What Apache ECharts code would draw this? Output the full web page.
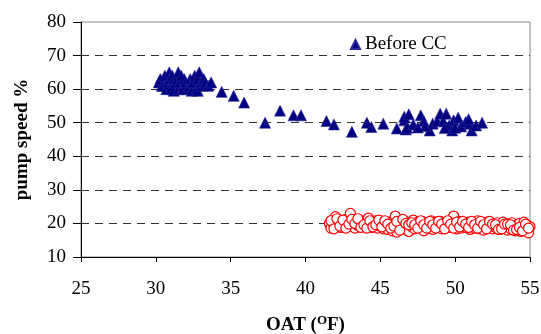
<!DOCTYPE html>
<html>
<head>
<meta charset="utf-8">
<script src="https://cdn.jsdelivr.net/npm/echarts@6/dist/echarts.min.js"></script>
<style>
  html, body { margin: 0; padding: 0; background: #fff; }
  #chart { width: 541px; height: 334px; }
</style>
</head>
<body>
<div id="chart"></div>
<script>
// pump speed vs outdoor air temperature
const xTicks = [25, 30, 35, 40, 45, 50, 55]
const yTicks = [10, 20, 30, 40, 50, 60, 70, 80]

// Before CC: [OAT, pump speed %]
const beforeCC = [
  [30.2, 62], [30.3, 63], [30.4, 61], [30.5, 61], [30.6, 64], [30.7, 60], [30.8, 62],
  [30.9, 65], [30.9, 63], [31.0, 61], [31.0, 60], [31.1, 64], [31.2, 59.5], [31.2, 63],
  [31.3, 62], [31.4, 63], [31.5, 65], [31.5, 60], [31.6, 62], [31.7, 64], [31.8, 61],
  [31.8, 60], [31.9, 63], [32.0, 62], [32.1, 60], [32.2, 61], [32.3, 63], [32.4, 59.5],
  [32.4, 62], [32.5, 62], [32.6, 64], [32.7, 60], [32.8, 63], [32.8, 59.5], [32.9, 65],
  [33.0, 62], [33.1, 61], [33.2, 63], [33.3, 62], [33.5, 61], [33.7, 62],
  [34.4, 59.2], [35.2, 58], [35.9, 56], [37.3, 50], [38.3, 53.6], [39.2, 52.2],
  [39.7, 52.2], [41.4, 50.5], [41.9, 49.5], [43.1, 47.3], [44.1, 50], [44.4, 48.7],
  [45.2, 49.7], [46.1, 48.3], [46.6, 50.7], [46.7, 48],
  [46.6, 51.8], [46.9, 52.5], [46.8, 48.5], [47.2, 49.5], [47.7, 52.2], [47.9, 50.5],
  [48.3, 47.7], [48.5, 49.7], [48.8, 50.4], [49.0, 52.7], [49.2, 50.5], [49.4, 52.7],
  [49.6, 49.2], [49.8, 47.7], [49.9, 50.7], [50.2, 51.5], [50.4, 48.9], [50.7, 50.2],
  [51.0, 49.7], [51.1, 47.7], [51.4, 49.2], [51.8, 50], [48.0, 49.0], [50.0, 48.5],
  [47.5, 48.6], [49.3, 48.4], [50.9, 51.0]
]

// After CC: [OAT, pump speed %]
const afterCC = [
  [41.6, 20.0], [41.7, 18.6], [41.8, 21.0], [41.9, 19.5], [42.0, 22.0], [42.1, 20.2], [42.2, 19.0],
  [42.3, 20.6], [42.4, 18.8], [42.5, 20.0], [42.6, 19.6], [42.7, 21.2], [42.8, 19.0], [42.9, 20.4],
  [43.0, 23.0], [43.1, 19.8], [43.2, 20.8], [43.3, 18.6], [43.4, 20.2], [43.5, 19.4], [43.6, 21.0],
  [43.7, 20.0], [43.8, 19.2], [43.9, 20.6], [44.0, 19.0], [44.1, 20.4], [44.2, 21.6], [44.3, 19.6],
  [44.4, 18.8], [44.5, 20.2], [44.6, 19.4], [44.7, 20.8], [44.8, 18.6], [44.9, 20.0], [45.0, 19.2],
  [45.1, 20.6], [45.2, 18.4], [45.3, 19.8], [45.4, 20.4], [45.5, 18.2], [45.6, 19.6], [45.7, 20.2],
  [45.8, 17.8], [45.9, 21.0], [46.0, 22.2], [46.1, 17.4], [46.2, 19.6], [46.3, 20.6], [46.4, 18.2],
  [46.5, 19.4], [46.6, 20.8], [46.7, 18.6], [46.8, 19.8], [46.9, 17.6], [47.0, 20.4], [47.1, 19.0],
  [47.2, 21.0], [47.3, 18.4], [47.4, 19.8], [47.5, 20.4], [47.6, 18.8], [47.7, 19.6], [47.8, 20.6],
  [47.9, 17.8], [48.0, 19.4], [48.1, 20.2], [48.2, 18.6], [48.3, 19.8], [48.4, 20.8], [48.5, 18.2],
  [48.6, 19.6], [48.7, 20.4], [48.8, 18.8], [48.9, 19.4], [49.0, 20.6], [49.1, 18.4], [49.2, 19.8],
  [49.3, 20.2], [49.4, 18.6], [49.5, 19.6], [49.6, 20.4], [49.7, 18.8], [49.8, 19.4], [49.9, 22.2],
  [50.0, 20.0], [50.1, 18.4], [50.2, 19.8], [50.3, 20.6], [50.4, 18.6], [50.5, 19.2], [50.6, 20.2],
  [50.7, 18.8], [50.8, 19.6], [50.9, 20.4], [51.0, 18.2], [51.1, 19.4], [51.2, 20.0], [51.3, 18.6],
  [51.4, 19.8], [51.5, 20.8], [51.6, 18.4], [51.7, 19.2], [51.8, 20.2], [51.9, 18.0], [52.0, 19.6],
  [52.1, 20.4], [52.2, 18.6], [52.3, 19.2], [52.4, 20.0], [52.5, 18.4], [52.6, 19.8], [52.7, 18.8],
  [52.8, 20.2], [52.9, 19.0], [53.0, 18.2], [53.1, 19.6], [53.2, 20.4], [53.3, 18.6], [53.4, 19.2],
  [53.5, 18.0], [53.6, 19.8], [53.7, 18.4], [53.8, 20.2], [53.9, 19.0], [54.0, 17.8], [54.1, 19.4],
  [54.2, 18.6], [54.3, 20.0], [54.4, 17.6], [54.5, 19.2], [54.6, 20.4], [54.7, 18.2], [54.8, 19.6],
  [54.9, 17.2], [55.0, 19.0],
  [41.7, 20.8], [41.9, 18.4], [42.1, 21.4], [42.3, 19.2], [42.5, 21.0], [42.7, 18.6], [42.9, 19.8],
  [43.1, 21.2], [43.3, 20.0], [43.5, 21.4], [43.7, 18.8], [43.9, 19.6], [44.1, 18.6], [44.3, 20.8],
  [44.5, 19.0], [44.7, 19.6], [44.9, 21.0], [45.1, 19.0], [45.3, 20.8], [45.5, 19.8], [45.7, 18.6],
  [45.9, 19.2], [46.1, 20.6], [46.3, 18.0], [46.5, 21.2], [46.7, 20.0], [46.9, 19.6], [47.1, 20.2],
  [47.3, 19.6], [47.5, 18.6], [47.7, 20.8], [47.9, 19.6], [48.1, 18.6], [48.3, 20.6], [48.5, 19.6],
  [48.7, 18.6], [48.9, 20.6], [49.1, 19.8], [49.3, 18.4], [49.5, 20.8], [49.7, 19.8], [49.9, 18.6],
  [50.1, 20.4], [50.3, 19.0], [50.5, 20.6], [50.7, 19.8], [50.9, 18.8], [51.1, 20.6], [51.3, 19.6],
  [51.5, 18.6], [51.7, 20.6], [51.9, 19.6], [52.1, 18.4], [52.3, 20.6], [52.5, 19.8], [52.7, 19.6],
  [52.9, 18.2], [53.1, 18.4], [53.3, 19.8], [53.5, 19.8], [53.7, 19.6], [53.9, 18.0], [54.1, 18.2],
  [54.3, 18.8], [54.5, 17.8], [54.7, 19.8], [54.9, 18.6]
]

const font = 'Liberation Serif'

// hide split lines at 10 and 80 (axis / border there)
const splitColors = yTicks.map((v, i) =>
  i === 0 || i === yTicks.length - 1 ? 'rgba(0,0,0,0)' : '#333'
)

const chart = echarts.init(document.getElementById('chart'))
chart.setOption({
  animation: false,
  backgroundColor: '#fff',
  textStyle: { fontFamily: font },
  grid: {
    left: 81,
    top: 22,
    right: 11,
    bottom: 77,
    outerBoundsMode: 'none',
    show: true,
    borderColor: '#888',
    borderWidth: 1
  },
  legend: {
    data: ['Before CC'],
    left: 345,
    top: 30,
    itemWidth: 9,
    itemHeight: 9,
    itemGap: 6,
    textStyle: { fontFamily: font, fontSize: 19, color: '#000' }
  },
  xAxis: {
    type: 'value',
    min: xTicks[0],
    max: xTicks[xTicks.length - 1],
    interval: 5,
    name: '{b|OAT (}{s|O}{b|F)}',
    nameLocation: 'middle',
    nameGap: 57,
    nameTextStyle: {
      rich: {
        b: { fontFamily: font, fontSize: 19, fontWeight: 'bold', color: '#000' },
        s: { fontFamily: font, fontSize: 13, fontWeight: 'bold', color: '#000', verticalAlign: 'top', padding: [0, 0, 9, 0] }
      }
    },
    axisLine: { lineStyle: { color: '#000', width: 1 } },
    axisTick: { show: true, length: 5, lineStyle: { color: '#000' } },
    axisLabel: { margin: 23, fontFamily: font, fontSize: 19, color: '#000' },
    splitLine: { show: false }
  },
  yAxis: {
    type: 'value',
    min: yTicks[0],
    max: yTicks[yTicks.length - 1],
    interval: 10,
    name: 'pump speed %',
    nameLocation: 'middle',
    nameGap: 49,
    nameTextStyle: { fontFamily: font, fontSize: 19, fontWeight: 'bold', color: '#000' },
    axisLine: { show: true, lineStyle: { color: '#000', width: 1 } },
    axisTick: { show: true, length: 8, lineStyle: { color: '#000' } },
    axisLabel: { margin: 15, fontFamily: font, fontSize: 19, color: '#000' },
    splitLine: {
      show: true,
      lineStyle: { color: splitColors, type: [8, 6], width: 1 }
    }
  },
  series: [
    {
      name: 'After CC',
      type: 'scatter',
      data: afterCC,
      symbol: 'circle',
      symbolSize: 10,
      itemStyle: { color: '#fff', borderColor: '#ff0000', borderWidth: 1.2, opacity: 1 }
    },
    {
      name: 'Before CC',
      type: 'scatter',
      data: beforeCC,
      symbol: 'triangle',
      symbolSize: 11,
      itemStyle: { color: '#000080', borderColor: '#2a2a9a', borderWidth: 0.6, opacity: 1 }
    }
  ]
})
</script>
</body>
</html>
